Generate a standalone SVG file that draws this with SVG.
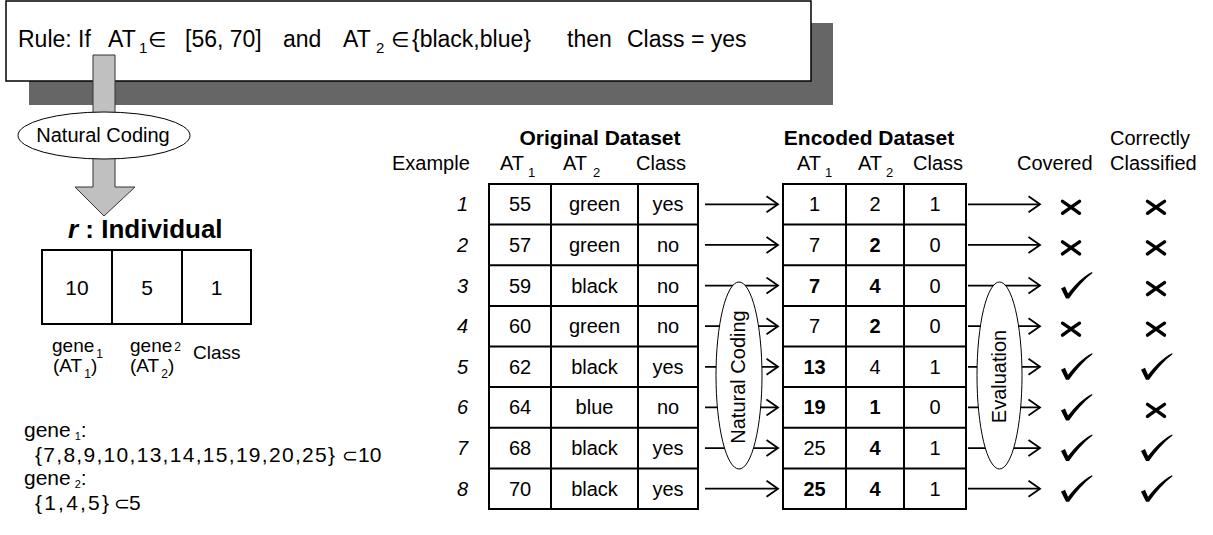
<svg xmlns="http://www.w3.org/2000/svg" width="1213" height="535" viewBox="0 0 1213 535">
<defs>
<style>
text { font-family: "Liberation Sans", Arial, Helvetica, sans-serif; fill:#000; }
.sym { font-family: "DejaVu Sans", sans-serif; }
.f20 { font-size:20px; }
.f19 { font-size:19px; }
.b { font-weight:bold; }
.it { font-style:italic; }
.mid { text-anchor:middle; }
.end { text-anchor:end; }
.grid { fill:#fff; stroke:#000; stroke-width:2; }
.gl { stroke:#000; stroke-width:2; fill:none; }
.arr { stroke:#000; stroke-width:1.8; fill:none; marker-end:url(#chev); }
.oval { fill:#fff; stroke:#000; stroke-width:1; }
.xm { stroke:#000; stroke-width:3.4; stroke-linecap:round; fill:none; }
</style>
<marker id="chev" markerUnits="userSpaceOnUse" viewBox="0 0 14 18" markerWidth="14" markerHeight="18" refX="12.5" refY="9" orient="auto">
<path d="M1,1 L12.5,9 L1,17" fill="none" stroke="#000" stroke-width="1.8"/>
</marker>
<path id="chk" d="M-6,-9 L-2,-11 L1,-4 C8,-13 16,-21 25,-25.5 L25.5,-24.5 C17,-18 9,-9 2,1 L-1,1 Z" fill="#000"/>
<path id="crs" class="xm" d="M-8.5,-6 Q-1,-1 8.5,6 M8.5,-6 Q1,-1 -8.5,6"/>
</defs>

<g id="rule">
<rect x="29" y="23" width="804" height="82" fill="#666"/>
<rect x="6" y="1" width="805" height="80" fill="#fff" stroke="#000" stroke-width="1.5"/>
<text font-size="23"><tspan x="18" y="47">Rule: If</tspan><tspan x="108" y="47">AT</tspan><tspan x="139" y="53" font-size="15">1</tspan><tspan x="148" y="47" class="sym" font-size="21">∈</tspan><tspan x="185" y="47">[56, 70]</tspan><tspan x="283" y="47">and</tspan><tspan x="343" y="47">AT</tspan><tspan x="376" y="53" font-size="15">2</tspan><tspan x="391" y="47" class="sym" font-size="21">∈</tspan><tspan x="412" y="47">{black,blue}</tspan><tspan x="567" y="47">then</tspan><tspan x="627" y="47">Class = yes</tspan></text>
</g>

<g id="connectors">
<polygon points="93,55 115,55 115,187 135,187 104,216 75,187 93,187" fill="#c0c0c0" stroke="#333" stroke-width="1"/>
<line class="arr" x1="705" y1="204.3" x2="778" y2="204.3"/>
<line class="arr" x1="705" y1="244.9" x2="778" y2="244.9"/>
<line class="arr" x1="705" y1="285.6" x2="778" y2="285.6"/>
<line class="arr" x1="705" y1="326.2" x2="778" y2="326.2"/>
<line class="arr" x1="705" y1="366.8" x2="778" y2="366.8"/>
<line class="arr" x1="705" y1="407.4" x2="778" y2="407.4"/>
<line class="arr" x1="705" y1="448.1" x2="778" y2="448.1"/>
<line class="arr" x1="705" y1="488.7" x2="778" y2="488.7"/>
<line class="arr" x1="968" y1="204.3" x2="1040" y2="204.3"/>
<line class="arr" x1="968" y1="244.9" x2="1040" y2="244.9"/>
<line class="arr" x1="968" y1="285.6" x2="1040" y2="285.6"/>
<line class="arr" x1="968" y1="326.2" x2="1040" y2="326.2"/>
<line class="arr" x1="968" y1="366.8" x2="1040" y2="366.8"/>
<line class="arr" x1="968" y1="407.4" x2="1040" y2="407.4"/>
<line class="arr" x1="968" y1="448.1" x2="1040" y2="448.1"/>
<line class="arr" x1="968" y1="488.7" x2="1040" y2="488.7"/>
</g>

<g id="natural-coding">
<ellipse class="oval" cx="104" cy="135.5" rx="86" ry="23.5"/>
<text class="f20 mid" x="103" y="142">Natural Coding</text>
</g>

<g id="individual">
<text font-size="26" class="b" x="68" y="238"><tspan class="it">r</tspan> : Individual</text>
<rect class="grid" x="42" y="250" width="209" height="74"/>
<line class="gl" x1="112" y1="250" x2="112" y2="324"/>
<line class="gl" x1="182" y1="250" x2="182" y2="324"/>
<text font-size="21" class="mid" x="77" y="295">10</text>
<text font-size="21" class="mid" x="147" y="295">5</text>
<text font-size="21" class="mid" x="216.5" y="295">1</text>
<text class="f19" x="52" y="352">gene<tspan dx="2" dy="6" font-size="12">1</tspan></text>
<text class="f19" x="53" y="372">(AT<tspan dx="2" dy="6" font-size="12">1</tspan><tspan dy="-6">)</tspan></text>
<text class="f19" x="130" y="352">gene<tspan dx="2" dy="-1" font-size="12">2</tspan></text>
<text class="f19" x="130" y="372">(AT<tspan dx="2" dy="6" font-size="12">2</tspan><tspan dy="-6">)</tspan></text>
<text class="f19" x="193" y="359">Class</text>
</g>

<g id="gene-sets">
<text font-size="21" x="24" y="437">gene<tspan dx="4" dy="3" font-size="11">1</tspan><tspan dy="-3">:</tspan></text>
<text font-size="21" x="35" y="462" textLength="300" lengthAdjust="spacing">{7,8,9,10,13,14,15,19,20,25}</text>
<text font-size="19" class="sym" x="342" y="462">⊂</text>
<text font-size="21" x="358" y="462">10</text>
<text font-size="21" x="24" y="485">gene<tspan dx="4" dy="3" font-size="11">2</tspan><tspan dy="-3">:</tspan></text>
<text font-size="21" x="35" y="510" textLength="74" lengthAdjust="spacing">{1,4,5}</text>
<text font-size="19" class="sym" x="114" y="510">⊂</text>
<text font-size="21" x="129" y="510">5</text>
</g>

<g id="original-dataset">
<text font-size="21" class="b mid" x="600" y="145">Original Dataset</text>
<text class="f20" x="392" y="170">Example</text>
<text class="f20" x="500" y="170">AT<tspan dx="4" dy="7" font-size="13">1</tspan></text>
<text class="f20" x="563" y="170">AT<tspan dx="6" dy="7" font-size="13">2</tspan></text>
<text class="f20" x="636" y="170">Class</text>
<rect class="grid" x="489" y="184" width="209" height="325"/>
<line class="gl" x1="551" y1="184" x2="551" y2="509"/>
<line class="gl" x1="638" y1="184" x2="638" y2="509"/>
<line class="gl" x1="489" y1="224.6" x2="698" y2="224.6"/>
<line class="gl" x1="489" y1="265.25" x2="698" y2="265.25"/>
<line class="gl" x1="489" y1="305.9" x2="698" y2="305.9"/>
<line class="gl" x1="489" y1="346.5" x2="698" y2="346.5"/>
<line class="gl" x1="489" y1="387.1" x2="698" y2="387.1"/>
<line class="gl" x1="489" y1="427.75" x2="698" y2="427.75"/>
<line class="gl" x1="489" y1="468.4" x2="698" y2="468.4"/>
<g class="f20 it end">
<text x="468" y="211.3">1</text><text x="468" y="251.9">2</text><text x="468" y="292.6">3</text><text x="468" y="333.2">4</text>
<text x="468" y="373.8">5</text><text x="468" y="414.4">6</text><text x="468" y="455.1">7</text><text x="468" y="495.7">8</text>
</g>
<g class="f20 mid">
<text x="520" y="211.3">55</text><text x="594.5" y="211.3">green</text><text x="668" y="211.3">yes</text>
<text x="520" y="251.9">57</text><text x="594.5" y="251.9">green</text><text x="668" y="251.9">no</text>
<text x="520" y="292.6">59</text><text x="594.5" y="292.6">black</text><text x="668" y="292.6">no</text>
<text x="520" y="333.2">60</text><text x="594.5" y="333.2">green</text><text x="668" y="333.2">no</text>
<text x="520" y="373.8">62</text><text x="594.5" y="373.8">black</text><text x="668" y="373.8">yes</text>
<text x="520" y="414.4">64</text><text x="594.5" y="414.4">blue</text><text x="668" y="414.4">no</text>
<text x="520" y="455.1">68</text><text x="594.5" y="455.1">black</text><text x="668" y="455.1">yes</text>
<text x="520" y="495.7">70</text><text x="594.5" y="495.7">black</text><text x="668" y="495.7">yes</text>
</g>
</g>

<g id="encoded-dataset">
<text font-size="21" class="b mid" x="869" y="145">Encoded Dataset</text>
<text class="f20" x="797" y="170">AT<tspan dx="4" dy="7" font-size="13">1</tspan></text>
<text class="f20" x="858" y="170">AT<tspan dx="4" dy="7" font-size="13">2</tspan></text>
<text class="f20" x="913" y="170">Class</text>
<rect class="grid" x="783" y="184" width="183" height="325"/>
<line class="gl" x1="846" y1="184" x2="846" y2="509"/>
<line class="gl" x1="904" y1="184" x2="904" y2="509"/>
<line class="gl" x1="783" y1="224.6" x2="966" y2="224.6"/>
<line class="gl" x1="783" y1="265.25" x2="966" y2="265.25"/>
<line class="gl" x1="783" y1="305.9" x2="966" y2="305.9"/>
<line class="gl" x1="783" y1="346.5" x2="966" y2="346.5"/>
<line class="gl" x1="783" y1="387.1" x2="966" y2="387.1"/>
<line class="gl" x1="783" y1="427.75" x2="966" y2="427.75"/>
<line class="gl" x1="783" y1="468.4" x2="966" y2="468.4"/>
<g class="f20 mid">
<text x="814.5" y="211.3">1</text><text x="875" y="211.3">2</text><text x="935" y="211.3">1</text>
<text x="814.5" y="251.9">7</text><text x="875" y="251.9" class="b">2</text><text x="935" y="251.9">0</text>
<text x="814.5" y="292.6" class="b">7</text><text x="875" y="292.6" class="b">4</text><text x="935" y="292.6">0</text>
<text x="814.5" y="333.2">7</text><text x="875" y="333.2" class="b">2</text><text x="935" y="333.2">0</text>
<text x="814.5" y="373.8" class="b">13</text><text x="875" y="373.8">4</text><text x="935" y="373.8">1</text>
<text x="814.5" y="414.4" class="b">19</text><text x="875" y="414.4" class="b">1</text><text x="935" y="414.4">0</text>
<text x="814.5" y="455.1">25</text><text x="875" y="455.1" class="b">4</text><text x="935" y="455.1">1</text>
<text x="814.5" y="495.7" class="b">25</text><text x="875" y="495.7" class="b">4</text><text x="935" y="495.7">1</text>
</g>
</g>

<g id="natural-coding-step">
<ellipse class="oval" cx="739" cy="375.5" rx="23" ry="93.5"/>
<text class="f20 mid" transform="translate(745,377) rotate(-90)">Natural Coding</text>
</g>

<g id="evaluation-step">
<ellipse class="oval" cx="999.5" cy="375.5" rx="22.5" ry="93.5"/>
<text class="f20 mid" transform="translate(1006,376.5) rotate(-90)">Evaluation</text>
</g>

<g id="results">
<text class="f20" x="1017" y="170">Covered</text>
<text class="f20" x="1110" y="145">Correctly</text>
<text class="f20" x="1110" y="170">Classified</text>
<use href="#crs" x="1071" y="207.3"/><use href="#crs" x="1156" y="207.3"/>
<use href="#crs" x="1071" y="247.9"/><use href="#crs" x="1156" y="247.9"/>
<use href="#chk" x="1067" y="297.6"/><use href="#crs" x="1156" y="288.6"/>
<use href="#crs" x="1071" y="329.2"/><use href="#crs" x="1156" y="329.2"/>
<use href="#chk" x="1067" y="378.8"/><use href="#chk" x="1147" y="378.8"/>
<use href="#chk" x="1067" y="419.4"/><use href="#crs" x="1156" y="410.4"/>
<use href="#chk" x="1067" y="460.1"/><use href="#chk" x="1147" y="460.1"/>
<use href="#chk" x="1067" y="500.7"/><use href="#chk" x="1147" y="500.7"/>
</g>
</svg>
